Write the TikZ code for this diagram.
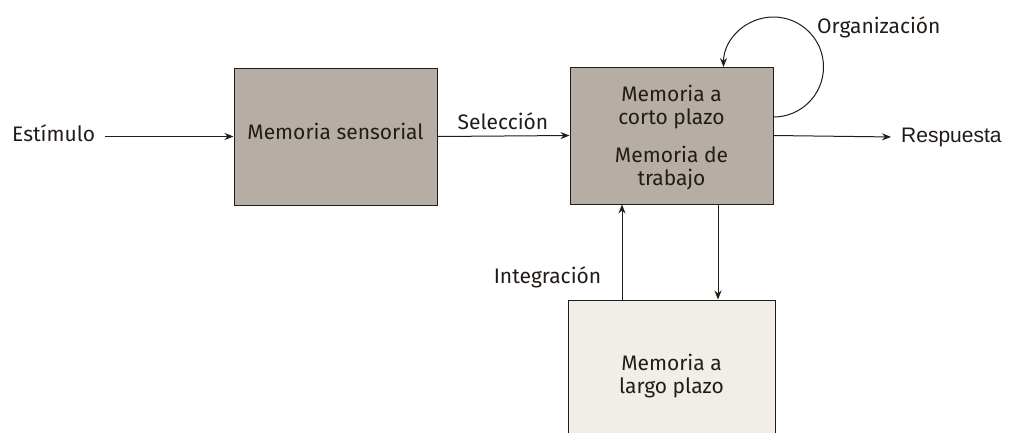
\documentclass[tikz,border=0pt]{standalone}
\usepackage{fontspec}
\setmainfont{Fira Sans}
\newfontfamily\arialfont{Liberation Sans}
\usetikzlibrary{arrows.meta,positioning}

\definecolor{cajaoscura}{HTML}{B6ADA5}
\definecolor{cajaclara}{HTML}{F1EEEA}
\definecolor{tinta}{HTML}{221C18}

\begin{document}
\begin{tikzpicture}[x=1pt,y=-1pt,>={Stealth[length=9pt,width=7pt,inset=3pt]},
		caja/.style={draw=tinta, line width=1pt, inner sep=0pt},
		texto/.style={text=tinta, align=center, inner sep=0pt, font=\fontsize{21}{23}\selectfont},
		flecha/.style={->, draw=tinta, line width=1pt}]
	\useasboundingbox[fill=white] (0,0) rectangle (1014,432);
	% cajas
	\node[caja, fill=cajaoscura, minimum width=203pt, minimum height=137pt] (ms) at (335.5,136.5) {};
	\node[caja, fill=cajaoscura, minimum width=203pt, minimum height=137pt] (mct) at (671.5,135.5) {};
	\node[caja, fill=cajaclara, minimum width=207pt, minimum height=150pt] (mlp) at (671.5,375) {};
	\node[texto, anchor=base] (tms) at (335.5,139) {Memoria sensorial};
	\node[texto] (tcp) at (671.5,107) {Memoria a\\corto plazo};
	\node[texto] (ttr) at (671.5,168) {Memoria de\\trabajo};
	\node[texto] (tlp) at (671.5,376) {Memoria a\\largo plazo};
	% etiquetas
	\node[texto, anchor=base west] (est) at (12,141) {Estímulo};
	\node[texto, anchor=base] (sel) at (503,129) {Selección};
	\node[texto, anchor=base west] (org) at (817,33) {Organización};
	\node[texto, anchor=base] (int) at (547.5,283) {Integración};
	\node[texto, anchor=base west, font=\arialfont\fontsize{21}{23}\selectfont] (resp) at (901,142) {Respuesta};
	% flechas
	\draw[flecha] ([xshift=10pt]est.east |- ms.west) -- (ms.west);
	\draw[flecha] (ms.east) -- (mct.west);
	\draw[flecha] (mct.east) -- ([xshift=-10pt]resp.west);
	\draw[flecha] ([xshift=-49.5pt]mlp.north) -- ([xshift=-49.5pt]mct.south);
	\draw[flecha] ([xshift=46.5pt]mct.south) -- ([xshift=46.5pt]mlp.north);
	\coordinate (bucle) at ([yshift=18.5pt]mct.east);
	\draw[flecha] (bucle) arc[start angle=-90, end angle=180, radius=50pt];
\end{tikzpicture}
\end{document}
